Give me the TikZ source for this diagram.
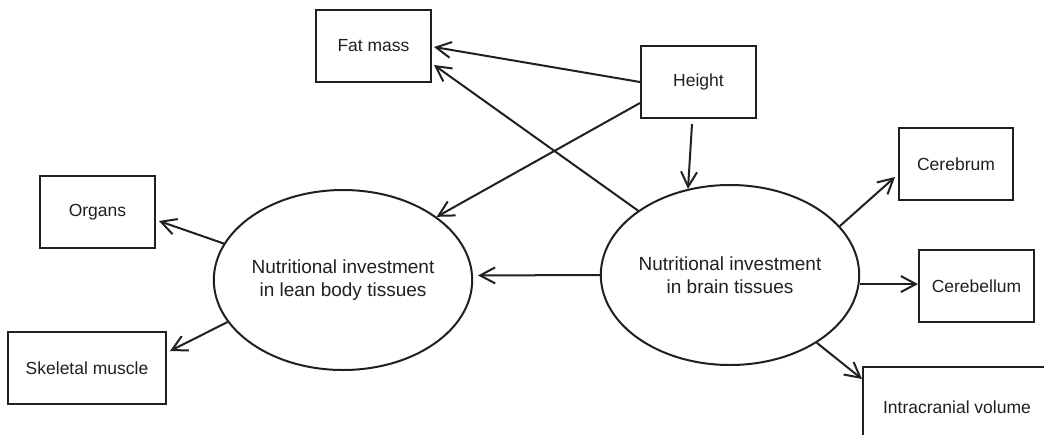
\documentclass[tikz,border=0pt]{standalone}
\usepackage{fontspec}
\setmainfont{Liberation Sans}
\usetikzlibrary{shapes.geometric,arrows.meta,calc}
\definecolor{ink}{HTML}{231F20}
\begin{document}
\begin{tikzpicture}[x=1pt,y=-1pt,
  box/.style={draw=ink,line width=2pt,rectangle,minimum height=72pt,inner sep=0pt,
    text=ink,font=\fontsize{17.5}{21}\selectfont},
  oval/.style={draw=ink,line width=2pt,ellipse,minimum width=256pt,minimum height=180pt,inner sep=0pt,
    text=ink,align=center,font=\fontsize{19}{23}\selectfont},
  arr/.style={draw=ink,line width=2pt,-{Straight Barb[length=15pt,width=16pt,line width=2pt]}}]
\useasboundingbox (0,0) rectangle (1044,434);
\clip (0,0) rectangle (1044,434);
\fill[white] (0,0) rectangle (1044,434);
% boxes
\node[box,minimum width=115pt] (fat) at (373.5,46) {Fat mass};
\node[box,minimum width=115pt] (height) at (698.5,82) {Height};
\node[box,minimum width=115pt] (organs) at (97.5,212) {Organs};
\node[box,minimum width=158pt] (skel) at (87,368) {Skeletal muscle};
\node[box,minimum width=114pt] (cerebrum) at (956,164) {Cerebrum};
\node[box,minimum width=115pt] (cerebellum) at (976.5,286) {Cerebellum};
\node[box,minimum width=188pt,minimum height=80pt] (intra) at (957,407) {Intracranial volume};
% ellipses
\node[oval] (lean) at (343,280) {Nutritional investment\\in lean body tissues};
\node[oval] (brain) at (730,275) {Nutritional investment\\in brain tissues};
% connectors
\draw[arr] (height.west) -- ($(fat.east)+(2,1)$);
\draw[arr] (brain.145) -- ($(fat.east)+(2,19)$);
\draw[arr] ($(height.west)+(0,21)$) -- (lean.34.8);
\draw[arr] ($(height.south)+(-6.5,5)$) -- (brain.116.3);
\draw[arr] (brain.180) -- ($(lean.2)+(5,0)$);
\draw[arr] (lean.163.9) -- ($(organs.east)+(3,9)$);
\draw[arr] (lean.200.5) -- ($(skel.east)+(3,-17)$);
\draw[arr] (brain.24.8) -- ($(cerebrum.west)+(-3,13)$);
\draw[arr] (brain.-4) -- (brain.-4 -| cerebellum.west);
\draw[arr] (brain.-38) -- ($(intra.north west)+(0,13)$);
\end{tikzpicture}
\end{document}
